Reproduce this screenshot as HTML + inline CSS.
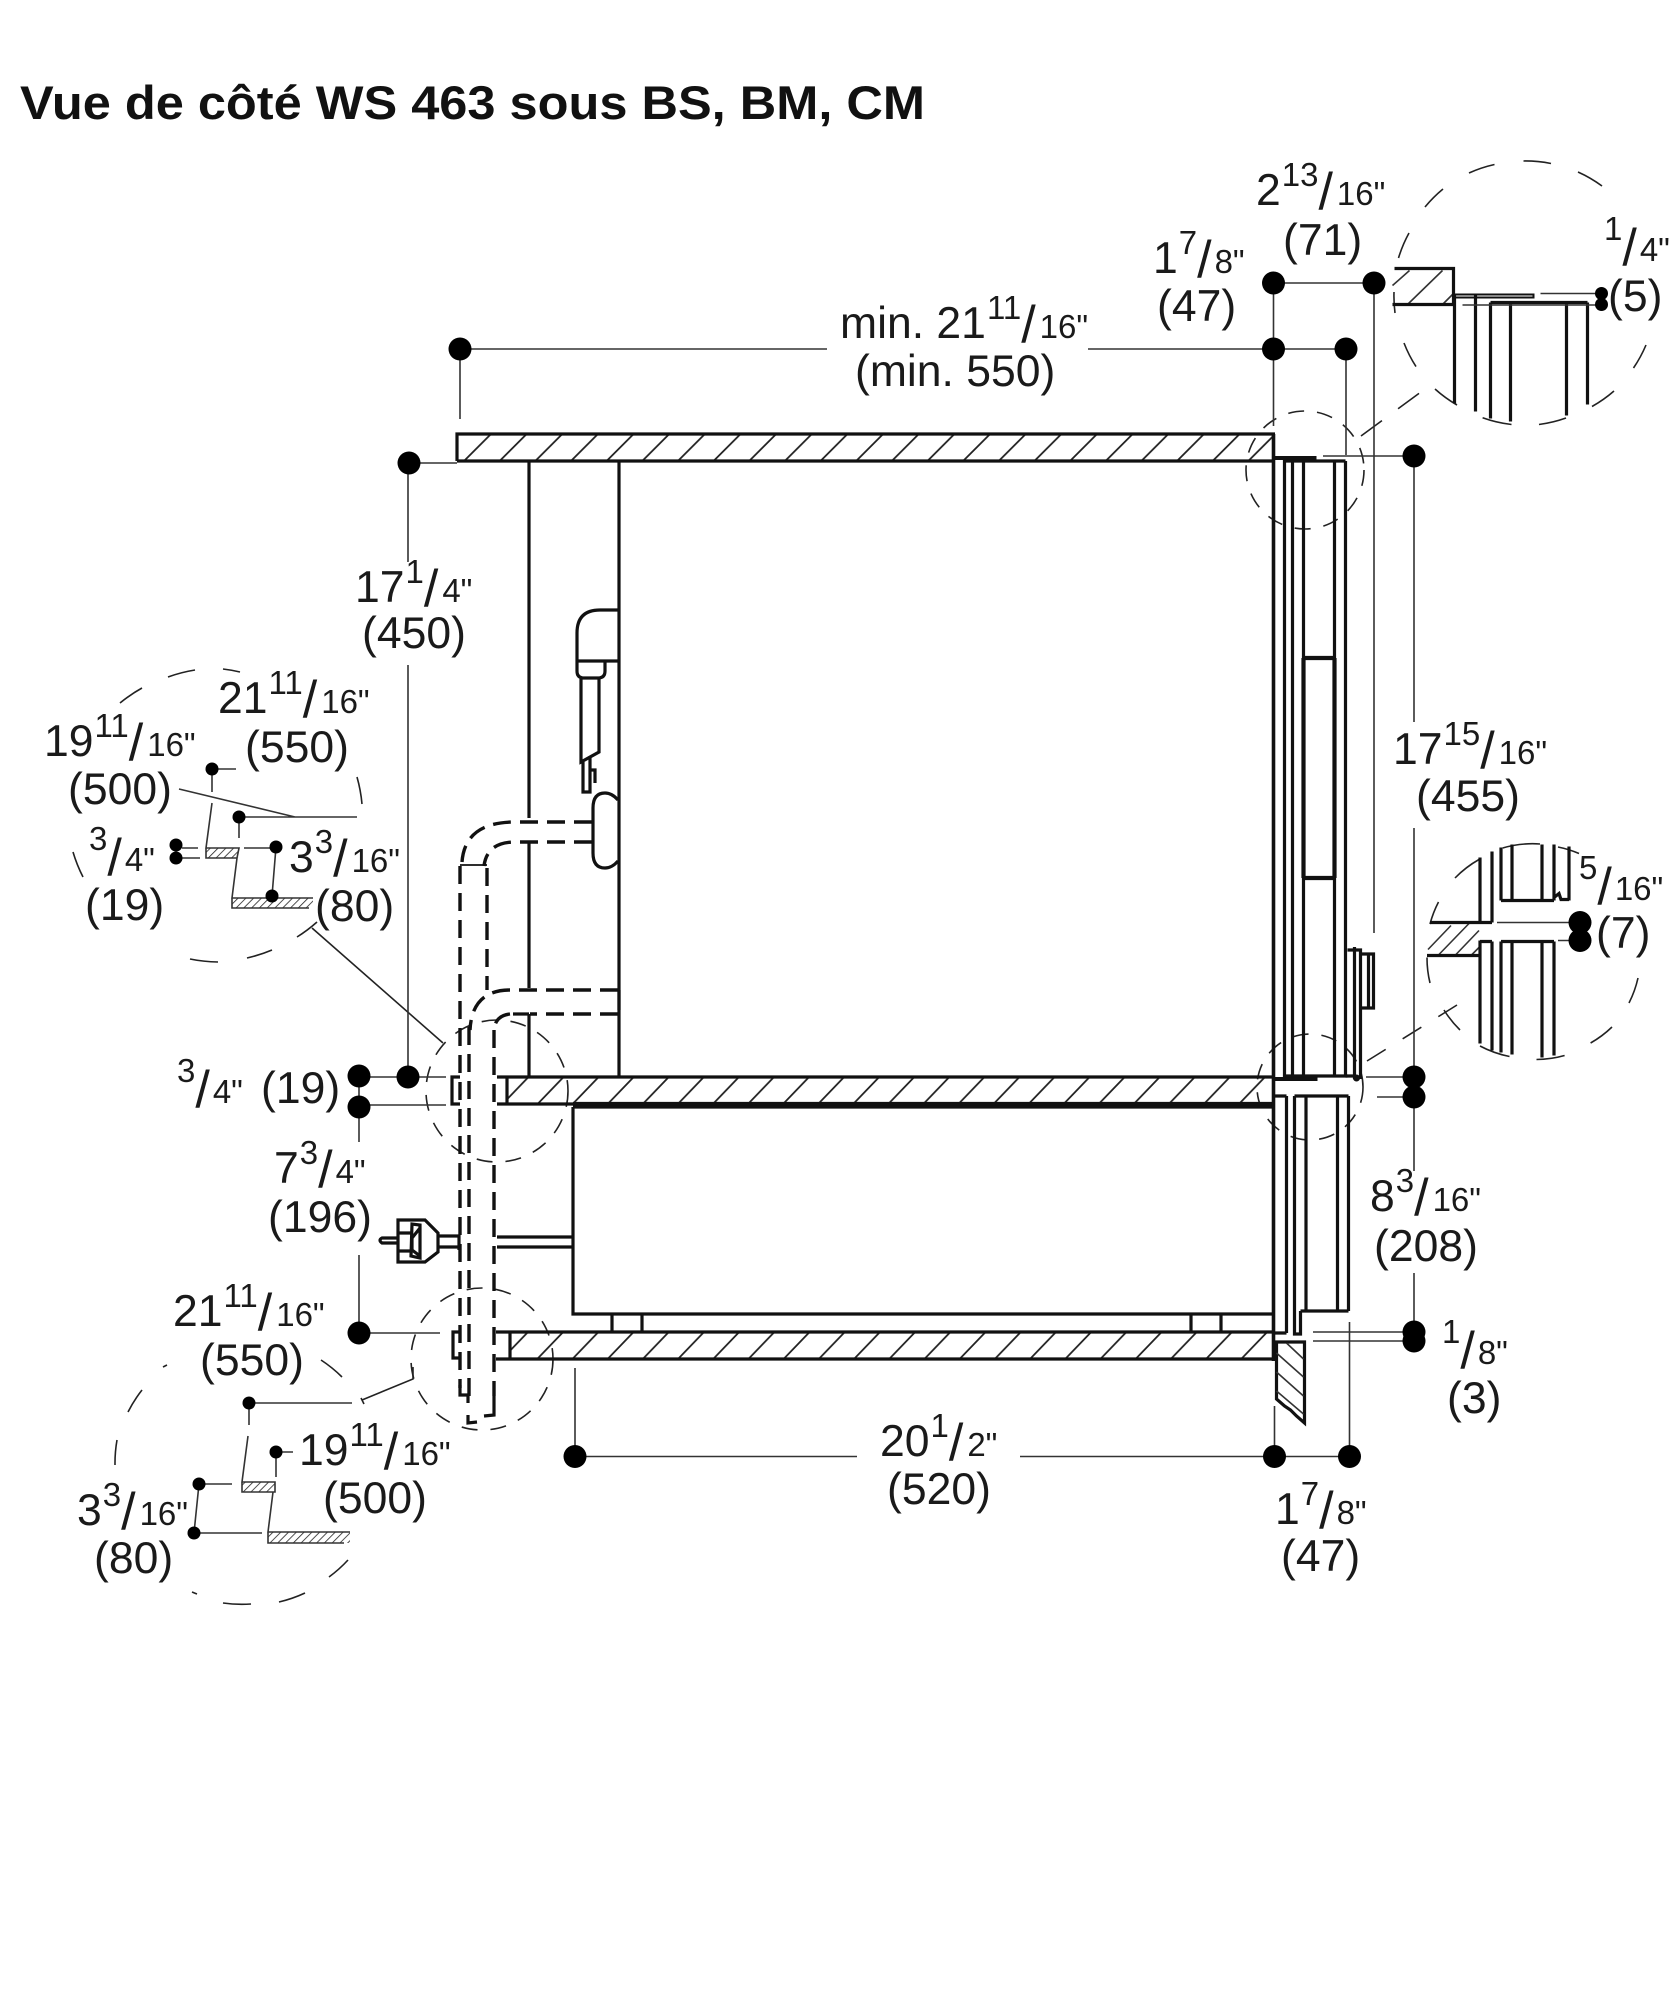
<!DOCTYPE html>
<html><head><meta charset="utf-8"><style>
html,body{margin:0;padding:0;background:#fff}
svg{display:block}
text{font-family:"Liberation Sans",sans-serif;font-size:44.5px;fill:#1a1a1a;stroke:#fff;stroke-width:3px;paint-order:stroke;stroke-linejoin:round}
.s{font-size:33px}.h{font-size:52px}
.t{font-size:47px;font-weight:bold;fill:#111;stroke:none}
.k{fill:none;stroke:#111;stroke-width:3.2}
.n{fill:none;stroke:#333;stroke-width:1.6}
.c{fill:none;stroke:#222;stroke-width:1.6}
.d{fill:none;stroke:#111;stroke-width:3.4;stroke-dasharray:18 9}
.m{fill:#000}
</style></head><body>
<svg xmlns="http://www.w3.org/2000/svg" width="1676" height="2000" viewBox="0 0 1676 2000">
<defs>
<pattern id="h1" patternUnits="userSpaceOnUse" x="464" y="434" width="35.65" height="27"><path d="M0 27L27 0" stroke="#222" stroke-width="1.8"/></pattern>
<pattern id="h2" patternUnits="userSpaceOnUse" x="502.5" y="1077" width="35.07" height="27"><path d="M0 27L26 0" stroke="#222" stroke-width="1.8"/></pattern>
<pattern id="h3" patternUnits="userSpaceOnUse" x="502" y="1332" width="35.2" height="27"><path d="M0 27L26 0" stroke="#222" stroke-width="1.8"/></pattern>
<pattern id="f" patternUnits="userSpaceOnUse" width="5.5" height="5.5" patternTransform="rotate(45)"><path d="M0 0V5.5" stroke="#222" stroke-width="1.6"/></pattern>
</defs>

<text class="t" x="20" y="119" textLength="905" lengthAdjust="spacingAndGlyphs">Vue de côté WS 463 sous BS, BM, CM</text>

<!-- detail circles -->
<g class="c">
<path d="M83 877A147 147 0 0 1 73 852M120 703A147 147 0 0 1 142 688M168 677A147 147 0 0 1 195 670M223 669A147 147 0 0 1 240 672M357 777A147 147 0 0 1 362 804M317 922A147 147 0 0 1 297 937M272 950A147 147 0 0 1 247 958M218 962A147 147 0 0 1 190 959"/>
<path d="M115 1465A134 134 0 0 1 117 1440M128 1412A134 134 0 0 1 142 1390M163 1367A134 134 0 0 1 167 1365M321 1360A134 134 0 0 1 342 1377M348 1560A134 134 0 0 1 329 1577M305 1593A134 134 0 0 1 279 1602M251 1604A134 134 0 0 1 223 1603M197 1594A134 134 0 0 1 192 1592"/>
<g transform="translate(-3,-1)">
<path d="M1472 174A132 132 0 0 1 1497.5 165.5M1526.5 162A132 132 0 0 1 1554 164.5M1581 173A132 132 0 0 1 1605 187M1428 208A132 132 0 0 1 1446 190M1401.5 259A132 132 0 0 1 1412 234M1649 346A132 132 0 0 1 1636.5 369M1617 392A132 132 0 0 1 1595 407.5M1569 419A132 132 0 0 1 1542 425.5M1514.5 425.5A132 132 0 0 1 1485.6 418.7M1460 406A132 132 0 0 1 1438 390M1419 367.6A132 132 0 0 1 1407 344M1398 314A132 132 0 0 1 1397 293"/>
<path d="M1458 879A107 107 0 0 1 1482 860.5M1505.7 849A107 107 0 0 1 1543 845M1561 848A107 107 0 0 1 1582 854.5M1433 925A107 107 0 0 1 1441.5 903M1433 984A107 107 0 0 1 1430 958.5M1463 1031A107 107 0 0 1 1447 1011M1512.5 1057.5A107 107 0 0 1 1483 1047M1567.6 1056.5A107 107 0 0 1 1539.5 1060.5M1615 1028A107 107 0 0 1 1593.6 1044M1641 979A107 107 0 0 1 1632 1004"/>
</g>
<circle cx="497" cy="1091" r="71" class="c" stroke-dasharray="16 13"/>
<circle cx="482" cy="1359" r="71" class="c" stroke-dasharray="16 13"/>
<circle cx="1305" cy="470" r="59" class="c" stroke-dasharray="16 13"/>
<circle cx="1310" cy="1087" r="53" class="c" stroke-dasharray="16 13"/>
<path d="M1361 436L1429 386" stroke-dasharray="26 20"/>
<path d="M1367 1061L1457 1005" stroke-dasharray="22 20"/>
<path d="M312 928L443 1043"/>
<path d="M362 1400L413 1379V1367M361 1398l3 6"/>
</g>

<!-- slabs -->
<rect x="457" y="434" width="818" height="27" fill="url(#h1)"/>
<path class="k" d="M457 461V434H1275M457 461H1274"/>
<rect x="507" y="1077" width="767" height="27" fill="url(#h2)"/>
<path class="k" d="M497 1077H1274M497 1104H1274M507 1077V1104"/>
<rect x="510" y="1332" width="764" height="27" fill="url(#h3)"/>
<path class="k" d="M496 1332H1274M496 1359H1274M510 1332V1359"/>

<!-- oven verticals & drawer -->
<path class="k" d="M529 461V818M529 843V988M529 1014V1077M619 461V1077"/>
<path class="k" d="M573 1107H1274M573 1107V1314H1274M612 1314V1332M642 1314V1332M1191 1314V1332M1221 1314V1332"/>
<path class="k" d="M573 1103.5H1274"/>

<!-- connector -->
<path class="k" d="M618 610H600Q577 610 577 633V671Q577 678 584 678H598Q605 678 605 671V661M577 661H618M581 678V762L599 752V678M583 762V792H590V758M590 770H595V783"/>
<path class="k" d="M618 800Q612 793 605 793Q593 793 593 808V853Q593 868 605 868Q612 868 618 861"/>

<!-- pipes -->
<path class="d" d="M592 822H515Q465 822 462 862M618 990H510Q472 990 470 1030"/>
<path class="d" d="M592 842H515Q487 842 484 866M618 1014H530M510 1014Q494 1016 494 1032"/>
<path class="k" style="stroke-width:1.8" d="M460 865H487"/>
<path class="k" d="M513 1014H529M619 990V1010"/>
<path class="d" d="M460 866V1388"/>
<path class="d" d="M487 868V990"/>
<path class="d" d="M469 1027V1400"/>
<path class="d" d="M494 1030V1396"/>
<path class="k" d="M460 1385V1395H468V1403M494 1396V1415L484 1416M477 1422L468 1423V1415"/>
<path class="k" d="M460 1077H452V1104H460M460 1332H453V1358H460"/>

<!-- plug -->
<path class="k" d="M400 1220H425L438 1233V1252L425 1262H398V1220ZM398 1233H412M398 1251H412M412 1224L411 1256L420 1258V1225ZM420 1228L412 1238V1250L420 1256"/>
<path class="k" d="M438 1236H459V1250M438 1247H459M398 1238H382Q378 1240 382 1243H398"/>
<path class="k" d="M497 1237H572M497 1247H572"/>

<g transform="translate(-1.5,0)">
<!-- right cabinet upper -->
<path class="k" style="stroke-width:3.6" d="M1275 434V1361"/>
<path class="k" d="M1286 458V1077M1294 461V1077M1305 461V1077M1336 461V1077M1347 461V1077"/>
<path class="k" style="stroke-width:4" d="M1275 458H1318M1275 1079H1319"/>
<path class="k" d="M1286 461H1347M1286 1076H1349"/>
<path class="k" style="stroke-width:4.2" d="M1305 658V878M1336 658V878M1305 658H1336M1305 878H1336"/>
<path class="k" d="M1349 950H1362V1079M1356 947V1079M1347 1076H1356M1362 954H1375V1008H1362M1370 954V1008"/>
<circle cx="1358" cy="1078" r="3.5" fill="#111"/>
<!-- right cabinet lower -->
<path class="k" d="M1275 1096H1288M1296 1096H1350M1288 1096V1333M1296 1096V1334H1302V1311M1307.5 1096V1311M1339 1096V1311M1350 1096V1311M1302 1311H1350M1275 1333H1288"/>
<!-- counter block -->
<path class="k" d="M1278 1342H1306V1423L1298 1416L1292 1410L1286 1406L1278 1399V1342Z"/>
<path class="n" d="M1288 1343L1305 1359M1278 1353L1305 1377M1278 1372L1305 1396M1278 1391L1305 1414"/>
</g>

<!-- dimension lines -->
<path class="n" d="M460 349H827M1088 349H1346M460 349V419M1273.5 283V426M1346 349V455M1374 283V933M1273.5 283H1374"/>
<path class="n" d="M1323 456H1414V722M1414 828V1097M1366 1077H1414M1377 1097H1414M1414 1097V1171M1414 1273V1341M1313 1332H1414M1313 1341H1414"/>
<path class="n" d="M575 1456.5H857M1020 1456.5H1349.5M575 1368V1456.5M1274.5 1406V1456.5M1349.5 1322V1456.5"/>
<path class="n" d="M409 463H457M408 463V562M408 665V1077M359 1077H446M359 1105H446M359 1077V1142M359 1255V1333M359 1333H440"/>

<circle class="m" cx="460" cy="349" r="11.5"/>
<circle class="m" cx="1273.5" cy="349" r="11.5"/>
<circle class="m" cx="1346" cy="349" r="11.5"/>
<circle class="m" cx="1273.5" cy="283" r="11.5"/>
<circle class="m" cx="1374" cy="283" r="11.5"/>
<circle class="m" cx="1414" cy="456" r="11.5"/>
<circle class="m" cx="1414" cy="1077" r="11.5"/>
<circle class="m" cx="1414" cy="1097" r="11.5"/>
<circle class="m" cx="1414" cy="1332" r="11.5"/>
<circle class="m" cx="1414" cy="1341" r="11.5"/>
<circle class="m" cx="1274.5" cy="1456.5" r="11.5"/>
<circle class="m" cx="1349.5" cy="1456.5" r="11.5"/>
<circle class="m" cx="575" cy="1456.5" r="11.5"/>
<circle class="m" cx="409" cy="463" r="11.5"/>
<circle class="m" cx="408" cy="1077" r="11.5"/>
<circle class="m" cx="359" cy="1076" r="11.5"/>
<circle class="m" cx="359" cy="1107" r="11.5"/>
<circle class="m" cx="359" cy="1333" r="11.5"/>

<!-- upper-right inset -->
<g transform="translate(-4.5,-2.5)">
<path class="n" d="M1397 288L1414 273M1412 307L1447 273M1447 307L1458 296"/>
<path class="k" d="M1399 271H1458V307H1397M1459 297V406M1480 297V414M1495 305V421M1515 305V424M1571 305V418M1592 305V407M1495 305H1592"/>
<path class="k" style="stroke-width:2" d="M1458 297H1538V300H1460"/>
<path class="n" d="M1467 307.5H1606M1545 296H1606"/>
<circle class="m" cx="1606" cy="296" r="6.5"/><circle class="m" cx="1606" cy="307" r="6.5"/>
</g>

<!-- middle-right inset -->
<g transform="translate(-3,-2.5)">
<path class="n" d="M1431 952L1454 928M1441 958L1472 926M1458 958L1482 933M1474 958L1482 950"/>
<path class="k" d="M1433 925H1495M1430 958H1483M1483 860V925M1495 854V925M1504 850V903M1515 847V903M1545 847V903M1557 847V903M1572 849V903M1504 903H1557M1557 900L1562 896L1564 902H1572"/>
<path class="k" d="M1483 943V1046M1495 944V1053M1504 944V1055M1515 944V1057M1545 944V1060M1557 944V1058M1483 944H1495M1504 944H1557"/>
<path class="n" d="M1500 925H1573M1561 943H1573"/>
<circle class="m" cx="1583" cy="925" r="11.5"/><circle class="m" cx="1583" cy="943" r="11.5"/>
</g>

<!-- upper-left inset -->
<rect x="206" y="848" width="33" height="10" fill="url(#f)"/>
<rect x="232" y="898" width="81" height="10" fill="url(#f)"/>
<path class="n" d="M212 769H236M212 769V792M212 803L206 848H239L237 858H206V848M237 858L232 898H313M232 898V908H309M179 789L295 817M239 817H357M239 817V838M182 848H198M182 858H200M244 848H276M276 847L272 896"/>
<circle class="m" cx="212" cy="769" r="6.5"/><circle class="m" cx="239" cy="817" r="6.5"/>
<circle class="m" cx="176" cy="845" r="6.5"/><circle class="m" cx="176" cy="858" r="6.5"/>
<circle class="m" cx="276" cy="847" r="6.5"/><circle class="m" cx="272" cy="896" r="6.5"/>

<!-- lower-left inset -->
<rect x="242" y="1482" width="33" height="10" fill="url(#f)"/>
<rect x="268" y="1532" width="82" height="11" fill="url(#f)"/>
<path class="n" d="M249 1403H352M249 1403V1425M248 1436L242 1482H275V1492H242V1482M275 1492H273L268 1532H350M268 1532V1543H344M276 1452H293M276 1452V1477M199 1484H232M194 1533H262M199 1484L194 1533"/>
<circle class="m" cx="249" cy="1403" r="6.5"/><circle class="m" cx="276" cy="1452" r="6.5"/>
<circle class="m" cx="199" cy="1484" r="6.5"/><circle class="m" cx="194" cy="1533" r="6.5"/>

<!-- labels -->
<text x="1256" y="205">2<tspan class="s" dy="-19" dx="1">13</tspan><tspan class="h" dy="23">/</tspan><tspan class="s" dy="-4" dx="4">16"</tspan></text>
<text x="1283" y="255">(71)</text>
<text x="1153" y="273">1<tspan class="s" dy="-19" dx="1">7</tspan><tspan class="h" dy="23">/</tspan><tspan class="s" dy="-4" dx="3">8"</tspan></text>
<text x="1157" y="321">(47)</text>
<text class="s" x="1604" y="240">1<tspan class="h" dy="25">/</tspan><tspan dy="-4" dx="3">4"</tspan></text>
<text x="1608" y="311">(5)</text>
<text x="840" y="338">min. 21<tspan class="s" dy="-19" dx="1">11</tspan><tspan class="h" dy="23">/</tspan><tspan class="s" dy="-4" dx="4">16"</tspan></text>
<text x="855" y="386">(min. 550)</text>
<text x="355" y="602">17<tspan class="s" dy="-19" dx="1">1</tspan><tspan class="h" dy="23">/</tspan><tspan class="s" dy="-4" dx="4">4"</tspan></text>
<text x="362" y="648">(450)</text>
<text x="1393" y="764">17<tspan class="s" dy="-19" dx="1">15</tspan><tspan class="h" dy="23">/</tspan><tspan class="s" dy="-4" dx="4">16"</tspan></text>
<text x="1416" y="811">(455)</text>
<text x="1370" y="1211">8<tspan class="s" dy="-19" dx="1">3</tspan><tspan class="h" dy="23">/</tspan><tspan class="s" dy="-4" dx="4">16"</tspan></text>
<text x="1374" y="1261">(208)</text>
<text class="s" x="1442" y="1343">1<tspan class="h" dy="25">/</tspan><tspan dy="-4" dx="3">8"</tspan></text>
<text x="1447" y="1413">(3)</text>
<text x="1275" y="1524">1<tspan class="s" dy="-19" dx="1">7</tspan><tspan class="h" dy="23">/</tspan><tspan class="s" dy="-4" dx="3">8"</tspan></text>
<text x="1281" y="1571">(47)</text>
<text x="880" y="1456">20<tspan class="s" dy="-19" dx="1">1</tspan><tspan class="h" dy="23">/</tspan><tspan class="s" dy="-4" dx="4">2"</tspan></text>
<text x="887" y="1504">(520)</text>
<text class="s" x="1579" y="879">5<tspan class="h" dy="25">/</tspan><tspan dy="-4" dx="3">16"</tspan></text>
<text x="1596" y="948">(7)</text>
<text x="218" y="713">21<tspan class="s" dy="-19" dx="1">11</tspan><tspan class="h" dy="23">/</tspan><tspan class="s" dy="-4" dx="4">16"</tspan></text>
<text x="245" y="762">(550)</text>
<text x="44" y="756">19<tspan class="s" dy="-19" dx="1">11</tspan><tspan class="h" dy="23">/</tspan><tspan class="s" dy="-4" dx="4">16"</tspan></text>
<text x="68" y="804">(500)</text>
<text class="s" x="89" y="850">3<tspan class="h" dy="25">/</tspan><tspan dy="-4" dx="3">4"</tspan></text>
<text x="85" y="920">(19)</text>
<text x="289" y="872">3<tspan class="s" dy="-19" dx="1">3</tspan><tspan class="h" dy="23">/</tspan><tspan class="s" dy="-4" dx="4">16"</tspan></text>
<text x="315" y="921">(80)</text>
<text class="s" x="177" y="1082">3<tspan class="h" dy="25">/</tspan><tspan dy="-4" dx="3">4"</tspan></text>
<text x="261" y="1103">(19)</text>
<text x="274" y="1183">7<tspan class="s" dy="-19" dx="1">3</tspan><tspan class="h" dy="23">/</tspan><tspan class="s" dy="-4" dx="3">4"</tspan></text>
<text x="268" y="1232">(196)</text>
<text x="173" y="1326">21<tspan class="s" dy="-19" dx="1">11</tspan><tspan class="h" dy="23">/</tspan><tspan class="s" dy="-4" dx="4">16"</tspan></text>
<text x="200" y="1375">(550)</text>
<text x="299" y="1465">19<tspan class="s" dy="-19" dx="1">11</tspan><tspan class="h" dy="23">/</tspan><tspan class="s" dy="-4" dx="4">16"</tspan></text>
<text x="323" y="1513">(500)</text>
<text x="77" y="1525">3<tspan class="s" dy="-19" dx="1">3</tspan><tspan class="h" dy="23">/</tspan><tspan class="s" dy="-4" dx="4">16"</tspan></text>
<text x="94" y="1573">(80)</text>
</svg>
</body></html>
